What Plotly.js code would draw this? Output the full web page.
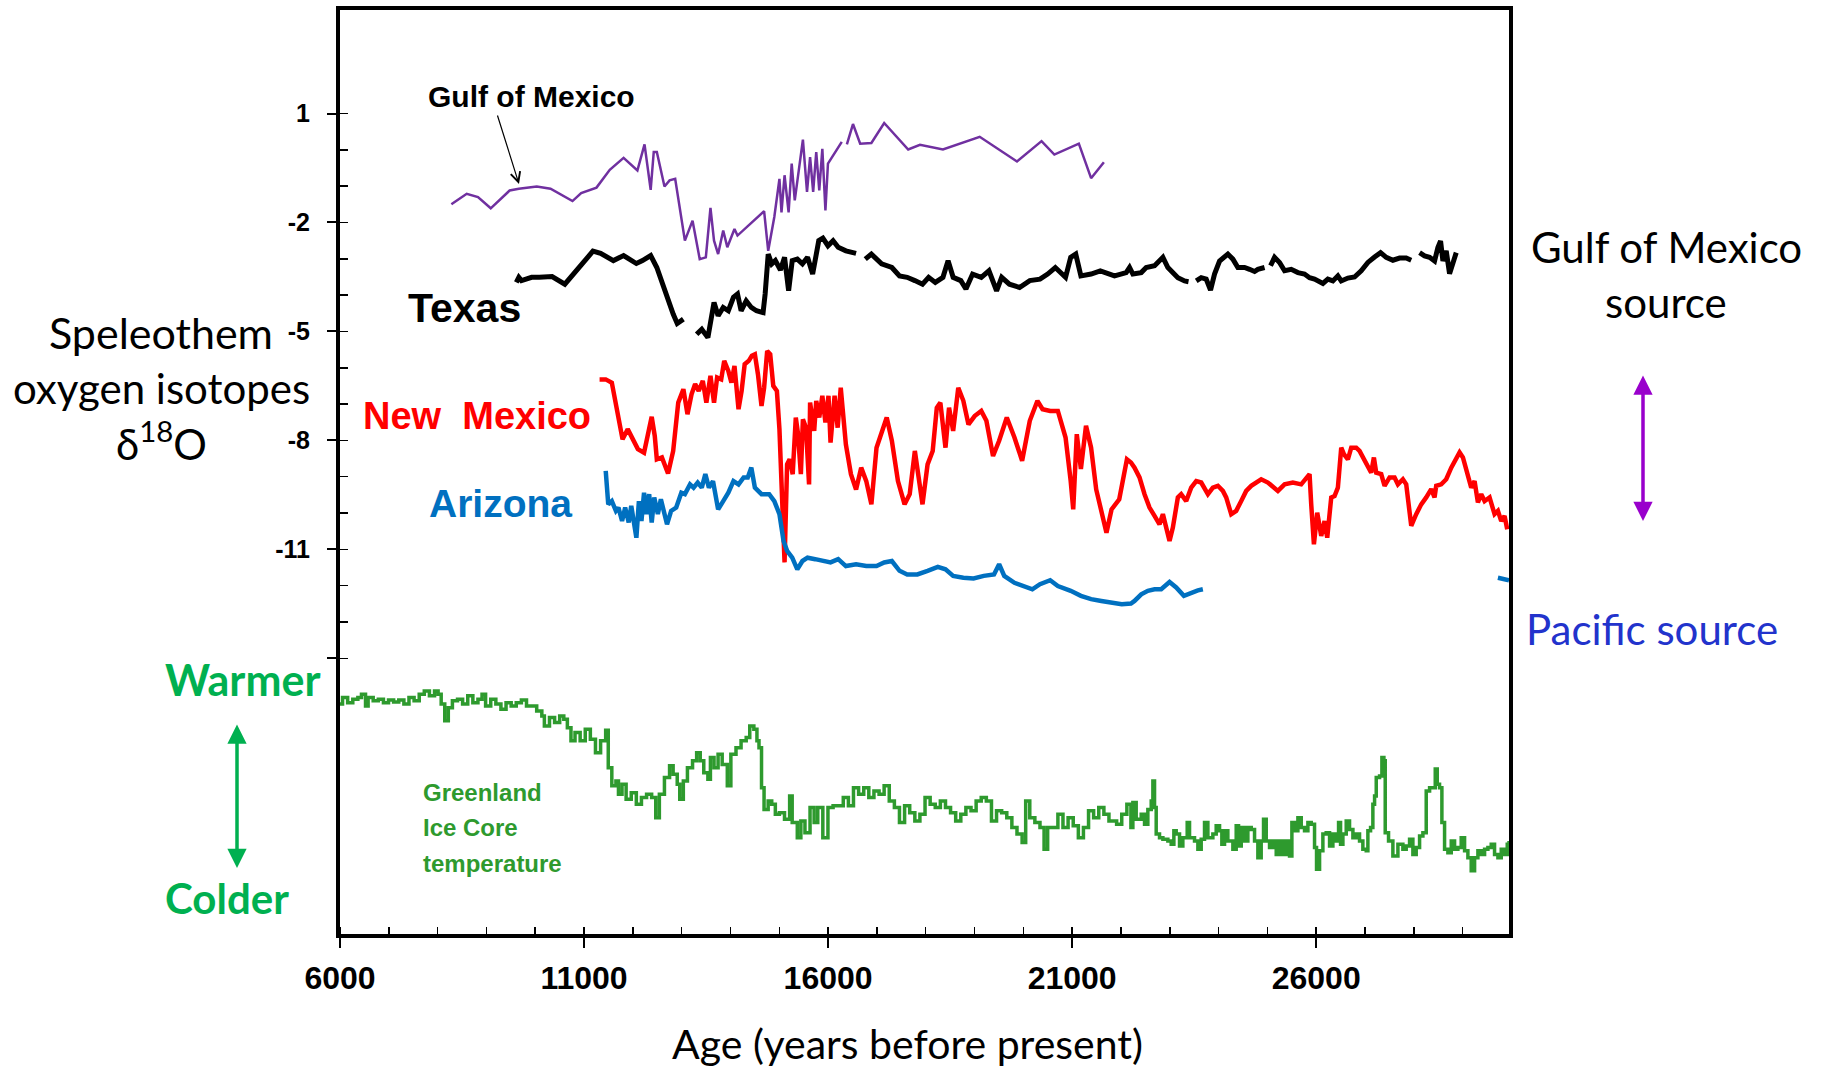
<!DOCTYPE html>
<html>
<head>
<meta charset="utf-8">
<script src="https://cdn.plot.ly/plotly-3.0.1.min.js"></script>
<style>
  html, body { margin: 0; padding: 0; background: #ffffff; }
  #chart { width: 1822px; height: 1073px; }
</style>
</head>
<body>
<div id="chart"></div>
<script>
// ---------- Data ----------
// Gulf of Mexico (purple)
const gulfAge = [8282,8596,8827,9088,9476,9664,10031,10313,10763,10941,11255,11527,11810,12093,12239,12365,12428,12491,12648,12752,12867,13066,13223,13370,13495,13590,13663,13747,13851,13935,14082,14144,14689,14773,14898,15003,15045,15108,15191,15254,15317,15422,15484,15568,15631,15694,15757,15819,15882,15945,15997,16280,16330,16385,16510,16657,16887,17149,17641,17882,18353,19106,19870,20373,20635,21137,21388,21650];
const gulfD18O = [-1.50,-1.21,-1.30,-1.61,-1.12,-1.07,-1.01,-1.07,-1.41,-1.19,-1.04,-0.55,-0.22,-0.57,0.15,-1.10,-0.06,-0.06,-1.01,-0.84,-0.80,-2.50,-1.95,-3.01,-2.96,-1.60,-2.50,-2.87,-2.22,-2.68,-2.18,-2.36,-1.69,-2.78,-1.85,-0.80,-1.72,-0.70,-1.72,-0.38,-1.39,-0.29,0.28,-1.16,-0.20,-1.16,-0.06,-1.12,0.03,-1.67,-0.38,0.22,null,0.15,0.71,0.17,0.19,0.74,0.01,0.14,0.01,0.36,-0.32,0.24,-0.13,0.17,-0.78,-0.34];

// Texas (black)
const texasAge = [9612,9664,9717,9926,10083,10345,10606,10920,11182,11339,11601,11810,11967,12072,12197,12365,12491,12648,12826,12909,13035,13170,
  13307,13412,13537,13590,13663,13747,13851,13956,14061,14144,14218,14322,14427,14532,14668,14710,14773,14846,14919,15024,15108,15191,15265,15369,15474,15579,15683,15809,15893,15997,16102,16207,16364,16573,16670,
  16761,16887,17096,17306,17463,17620,17777,17934,18060,18196,18353,18458,18562,18719,18824,18960,19138,19295,19452,19556,19714,19923,20132,20341,20498,20655,20865,20970,21074,21179,21388,21577,21868,22107,22176,22244,22415,22517,22688,22859,22961,23063,23166,23303,23384,23460,
  23542,23644,23746,23835,23917,24020,24190,24293,24395,24532,24634,24737,24805,24942,25000,
  25065,25147,25249,25352,25488,25625,25761,25864,25966,26137,26239,26342,26444,26513,26649,26786,26922,27059,27196,27319,27435,27571,27708,27844,27947,28030,
  28118,28220,28323,28425,28493,28548,28596,28664,28732,28801,28869];
const texasD18O = [-3.65,-3.51,-3.60,-3.51,-3.51,-3.49,-3.70,-3.19,-2.79,-2.85,-3.05,-2.91,-3.05,-3.13,-3.05,-2.91,-3.24,-3.88,-4.52,-4.78,-4.66,null,
  -5.08,-4.94,-5.17,-4.71,-4.20,-4.57,-4.34,-4.43,-4.06,-3.97,-4.43,-4.16,-4.34,-4.43,-4.48,-3.97,-2.87,-3.14,-3.05,-3.31,-2.96,-3.88,-3.05,-3.01,-3.14,-2.96,-3.42,-2.50,-2.43,-2.64,-2.50,-2.68,-2.78,-2.85,null,
  -3.01,-2.87,-3.14,-3.24,-3.47,-3.51,-3.60,-3.70,-3.51,-3.65,-3.51,-3.05,-3.51,-3.60,-3.83,-3.42,-3.51,-3.33,-3.88,-3.51,-3.70,-3.79,-3.60,-3.56,-3.42,-3.24,-3.51,-2.96,-2.87,-3.47,-3.42,-3.33,-3.47,-3.38,-3.24,-3.42,-3.38,-3.24,-3.19,-2.96,-3.24,-3.38,-3.52,-3.61,-3.63,null,
  -3.61,-3.52,-3.56,-3.86,-3.42,-3.06,-2.87,-3.01,-3.24,-3.24,-3.29,-3.35,-3.29,-3.24,null,
  -3.19,-2.96,-3.10,-3.33,-3.29,-3.38,-3.42,-3.52,-3.56,-3.68,-3.56,-3.61,-3.47,-3.61,-3.53,-3.50,-3.33,-3.10,-2.95,-2.83,-2.96,-3.04,-2.98,-2.98,-3.04,null,
  -2.83,-2.92,-2.96,-3.06,-2.69,-2.51,-3.06,-2.78,-3.41,-3.15,-2.83];

// New Mexico (red)
const nmAge = [11318,11444,11569,11674,11789,11894,11988,12103,12229,12302,12386,12449,12491,12595,12721,12826,12930,13035,13119,13202,
  13276,13349,13433,13506,13590,13663,13726,13810,13872,13956,14019,14082,14165,14228,14291,14375,14438,14500,14563,14636,
  14689,14752,14814,14877,14951,15003,15066,15108,15160,15212,15275,15338,15380,15442,15484,15547,15610,15631,15715,15757,
  15819,15882,15945,16008,16050,16133,16196,16259,16364,16468,16573,16678,16782,16887,16992,17096,17201,17306,17431,17567,
  17672,17777,17934,18038,18143,18227,18300,18405,18478,18562,18667,18771,18876,19002,19138,19243,19379,19504,19661,19818,
  19975,20132,20289,20394,20550,20707,20865,20970,21022,21095,21179,21284,21388,21493,21619,21703,21807,21965,22122,22205,
  22278,22380,22483,22585,22688,22790,22859,22927,22995,23063,23166,23234,23337,23439,23542,23644,23781,23883,23986,24088,
  24156,24259,24361,24464,24566,24669,24873,25010,25215,25352,25522,25693,25864,25898,25953,26021,26103,26171,26226,26308,
  26376,26444,26513,26567,26649,26718,26820,26888,26991,27059,27127,27182,27230,27332,27401,27503,27605,27674,27776,27844,
  27947,28049,28152,28254,28357,28425,28459,28562,28664,28767,28869,28937,29006,29074,29176,29245,29313,29381,29450,29552,
  29654,29723,29791,29859,29914];
const nmD18O = [-6.32,-6.32,-6.41,-7.10,-7.97,-7.69,-7.92,-8.24,-8.34,-7.92,-7.35,-7.88,-8.52,-8.47,-8.91,-8.29,-6.96,-6.59,-7.28,-6.73,
  -6.45,-6.64,-6.36,-6.96,-6.22,-6.96,-6.27,-6.32,-5.81,-6.09,-6.41,-5.95,-7.14,-6.64,-5.90,-5.81,-5.67,-5.63,-6.18,-7.05,
  -6.55,-5.54,-5.63,-6.50,-6.64,-7.69,-9.85,-11.36,-8.66,-8.52,-8.93,-7.37,-7.78,-8.93,-7.42,-7.65,-9.21,-6.96,-7.74,-6.91,
  -7.37,-6.77,-7.51,-6.77,-8.06,-6.77,-7.65,-6.55,-8.11,-8.93,-9.35,-8.75,-9.12,-9.76,-8.20,-7.74,-7.37,-8.01,-9.12,-9.76,
  -9.48,-8.29,-9.76,-8.66,-8.29,-7.10,-6.96,-8.20,-7.10,-7.74,-6.55,-6.91,-7.56,-7.33,-7.19,-7.46,-8.43,-8.01,-7.37,-7.92,
  -8.56,-7.46,-6.91,-7.14,-7.19,-7.19,-7.92,-9.12,-9.90,-7.83,-8.79,-7.60,-8.20,-9.35,-10.13,-10.54,-9.90,-9.62,-8.52,-8.61,
  -8.75,-9.02,-9.48,-9.85,-10.08,-10.31,-10.03,-10.40,-10.77,-10.40,-9.57,-9.48,-9.67,-9.30,-9.12,-9.16,-9.48,-9.30,-9.25,-9.39,
  -9.57,-10.03,-9.94,-9.67,-9.39,-9.25,-9.07,-9.16,-9.39,-9.21,-9.16,-9.21,-8.93,-9.76,-10.86,-9.99,-10.63,-10.22,-10.68,-9.57,
  -9.53,-9.30,-8.20,-8.38,-8.52,-8.20,-8.20,-8.29,-8.56,-8.75,-8.89,-8.47,-8.89,-8.93,-9.25,-9.02,-9.02,-9.21,-9.07,-9.21,
  -10.35,-10.03,-9.76,-9.57,-9.34,-9.57,-9.25,-9.21,-9.07,-8.75,-8.47,-8.33,-8.47,-8.84,-9.30,-9.12,-9.71,-9.48,-9.67,-9.57,
  -10.03,-9.94,-10.22,-10.08,-10.45];

// Arizona (blue)
const azAge = [11444,11496,11569,11653,11705,11779,11842,11915,11967,12030,12072,12124,12176,12229,12281,12334,12386,12438,12512,12574,
  12648,12700,12784,12888,12993,13066,13171,13244,13328,13412,13485,13558,13642,13747,13851,13956,14061,14165,14270,14354,
  14427,14500,14636,14793,14898,15003,15087,15160,15265,15369,15474,15579,15736,15893,16050,16207,16364,16573,16782,16992,
  17149,17306,17463,17620,17829,18038,18248,18405,18562,18771,18980,19190,19399,19504,19609,19818,20027,20185,20341,20550,
  20707,20970,21179,21388,21598,21807,22016,22205,
  22278,22415,22551,22688,22824,22995,23132,23289,23439,23576,23678,
  26000,
  29723,29859,29950];
const azD18O = [-8.84,-9.76,-9.67,-9.94,-9.85,-10.22,-9.85,-10.26,-9.80,-10.40,-10.68,-9.67,-10.22,-9.44,-10.03,-9.48,-10.26,-9.57,-10.03,-9.62,
  -10.03,-10.31,-9.94,-9.85,-9.44,-9.48,-9.21,-9.30,-9.16,-9.30,-8.93,-9.30,-9.12,-9.90,-9.67,-9.44,-9.12,-9.21,-9.02,-9.02,
  -8.75,-9.30,-9.48,-9.48,-9.67,-10.03,-10.77,-11.04,-11.23,-11.55,-11.32,-11.23,-11.27,-11.32,-11.36,-11.27,-11.46,-11.41,-11.46,-11.46,
  -11.36,-11.32,-11.59,-11.69,-11.69,-11.59,-11.48,-11.55,-11.73,-11.78,-11.80,-11.73,-11.69,-11.41,-11.73,-11.92,-12.01,-12.10,-11.96,-11.85,
  -12.01,-12.14,-12.28,-12.37,-12.42,-12.47,-12.51,-12.49,
  -12.42,-12.24,-12.14,-12.10,-12.10,-11.90,-12.05,-12.28,-12.19,-12.13,-12.10,
  null,
  -11.78,-11.82,-11.85];

// Greenland ice core temperature (green, stepped; plotted on the same vertical scale)
const grAge = [6000,6052,6157,6262,6366,6440,6523,6576,6680,6785,6890,6994,7099,7204,7309,7413,7518,7623,7727,7832,
  7937,8010,8073,8146,8219,8303,8408,8512,8617,8722,8826,8910,8983,9088,9193,9297,9402,9507,9611,9716,
  9821,9926,10030,10135,10187,10292,10397,10501,10585,10658,10732,10815,10920,11025,11129,11234,11339,11443,11496,11569,
  11653,11705,11778,11862,11967,12071,12176,12281,12385,12469,12543,12647,12752,12825,12909,12961,13034,13118,13223,13307,
  13380,13453,13537,13589,13663,13746,13830,13935,14008,14113,14217,14322,14395,14479,14542,14584,14636,14688,14772,14845,
  14919,15002,15107,15212,15264,15369,15442,15526,15630,15714,15788,15892,15997,16102,16206,16311,16416,16520,16625,16730,
  16834,16939,17044,17148,17253,17358,17462,17567,17672,17777,17881,17986,18091,18195,18300,18405,18509,18614,18719,18823,
  18928,19033,19137,19242,19347,19451,19556,19661,19765,19870,19975,20048,20132,20236,20341,20425,20498,20603,20708,20812,
  20917,21022,21127,21231,21336,21440,21545,21650,21754,21911,22016,22121,22204,
  22244,22312,22415,22483,22551,22620,22654,22688,22722,22790,22859,22961,23029,23084,23132,23200,23268,23357,23405,23507,
  23576,23644,23712,23781,23883,23951,24020,24067,24122,24190,24293,24361,24409,24464,24532,24600,24669,24737,24805,24873,
  24921,24976,25044,25112,25181,25249,25317,25386,25454,25502,25570,25625,25693,25761,25830,25898,25966,26007,26069,26137,
  26205,26274,26342,26410,26458,26499,26547,26615,26683,26752,26820,26888,26956,27025,27059,27114,27161,27196,27230,27298,
  27346,27387,27414,27482,27571,27674,27776,27844,27913,27981,28049,28118,28186,28254,28323,28391,28439,28480,28527,28575,
  28630,28698,28767,28835,28903,28971,29040,29108,29176,29245,29313,29381,29450,29518,29586,29654,29723,29791,29859,29914,29950];
const grTemp = [-15.26,-15.08,-15.22,-15.13,-15.08,-14.99,-15.31,-15.08,-15.17,-15.13,-15.22,-15.15,-15.20,-15.15,-15.26,-15.08,-15.17,-14.99,-14.90,-15.03,
  -14.90,-14.99,-15.26,-15.72,-15.36,-15.17,-15.13,-15.26,-15.03,-15.22,-15.13,-14.99,-15.31,-15.13,-15.26,-15.40,-15.22,-15.31,-15.22,-15.15,
  -15.31,-15.31,-15.45,-15.59,-15.86,-15.63,-15.77,-15.59,-15.68,-15.91,-16.27,-16.04,-16.27,-15.95,-16.23,-16.60,-16.27,-15.98,-17.01,-17.51,
  -17.38,-17.74,-17.47,-17.88,-17.70,-18.02,-17.83,-17.74,-17.83,-18.39,-17.74,-17.28,-16.96,-17.19,-17.47,-17.88,-17.38,-17.01,-16.82,-16.60,
  -16.82,-17.15,-17.33,-16.73,-17.01,-16.64,-16.92,-17.51,-16.64,-16.46,-16.27,-16.18,-15.86,-15.95,-16.27,-16.46,-17.56,-18.16,-17.93,-18.02,
  -18.29,-18.25,-18.43,-17.79,-18.52,-18.94,-18.48,-18.80,-18.11,-18.52,-18.11,-18.94,-18.11,-18.06,-18.06,-17.83,-18.06,-17.56,-17.74,-17.56,
  -17.83,-17.65,-17.74,-17.51,-17.93,-18.11,-18.52,-18.06,-18.25,-18.48,-18.29,-17.83,-18.02,-18.11,-17.93,-18.11,-18.25,-18.48,-18.29,-18.11,
  -18.20,-17.93,-17.83,-17.93,-18.48,-18.20,-18.25,-18.39,-18.66,-18.84,-19.07,-17.93,-18.39,-18.52,-18.66,-19.26,-18.66,-18.66,-18.29,-18.66,
  -18.39,-18.61,-18.94,-18.66,-18.20,-18.39,-18.11,-18.29,-18.48,-18.57,-18.29,-18.02,-18.66,
  -17.97,-18.43,-18.29,-18.57,-18.16,-17.93,-17.38,-18.11,-18.84,-18.94,-18.98,-19.03,-19.12,-18.75,-18.84,-19.17,-18.94,-18.52,-18.94,-19.03,
  -19.26,-18.98,-18.52,-18.94,-18.84,-18.61,-18.75,-19.12,-18.75,-19.03,-19.26,-18.61,-19.17,-18.66,-19.03,-18.66,-18.71,-19.03,-19.49,-19.03,
  -18.43,-19.03,-19.21,-19.03,-19.40,-19.03,-19.40,-19.03,-19.44,-18.52,-18.75,-18.39,-18.66,-18.75,-18.52,-18.57,-19.21,-19.81,-19.30,-18.84,
  -18.80,-19.17,-18.84,-19.03,-18.52,-19.12,-18.84,-18.48,-18.71,-18.94,-18.84,-19.03,-19.26,-19.30,-18.75,-18.66,-18.02,-17.79,-17.28,-17.24,
  -16.73,-16.82,-18.80,-19.03,-19.44,-19.12,-19.26,-19.17,-18.98,-19.40,-19.21,-18.89,-18.80,-17.65,-17.56,-17.56,-17.05,-17.47,-17.56,-18.52,
  -19.26,-19.35,-19.03,-19.26,-19.21,-18.94,-19.30,-19.49,-19.85,-19.49,-19.30,-19.40,-19.26,-19.21,-19.12,-19.40,-19.49,-19.26,-19.40,-19.12,-19.03];

// Axis ticks
const xMajorTicks = [6000, 11000, 16000, 21000, 26000];
const xMajorLabels = ["6000", "11000", "16000", "21000", "26000"];
const yMajorTicks = [1, -2, -5, -8, -11, -14];
const yMajorLabels = ["1", "-2", "-5", "-8", "-11", " "];
const yMinorTicks = [1, 0, -1, -2, -3, -4, -5, -6, -7, -8, -9, -10, -11, -12, -13, -14];

// ---------- Plot ----------
const calibri = "Lato, 'Open Sans', sans-serif";
const arialB = "'Liberation Sans', Arial, sans-serif";

const traces = [
  {x: gulfAge, y: gulfD18O, mode: "lines", name: "Gulf of Mexico",
   line: {color: "#7030a0", width: 2.5}, connectgaps: false},
  {x: texasAge, y: texasD18O, mode: "lines", name: "Texas",
   line: {color: "#000000", width: 5}, connectgaps: false},
  {x: nmAge, y: nmD18O, mode: "lines", name: "New Mexico",
   line: {color: "#ff0000", width: 4.5}, connectgaps: false},
  {x: azAge, y: azD18O, mode: "lines", name: "Arizona",
   line: {color: "#0070c0", width: 4.5}, connectgaps: false},
  {x: grAge, y: grTemp, mode: "lines", name: "Greenland Ice Core temperature",
   line: {color: "#2e9a2e", width: 3.5, shape: "hv"}}
];

const L = 340, R = 1509, T = 10, B = 934;
const W = R - L, H = B - T;
function px(x) { return (x - L) / W; }
function py(y) { return (B - y) / H; }

function label(text, x, y, font, anchor) {
  return {text: text, x: px(x), y: py(y), xref: "paper", yref: "paper",
          xanchor: anchor || "center", yanchor: "middle", showarrow: false, font: font};
}
function arrow(x, y, ax, ay, color, width, head, size, both) {
  return {text: "", x: px(x), y: py(y), xref: "paper", yref: "paper", showarrow: true,
          ax: ax, ay: ay, arrowhead: head, startarrowhead: head, arrowsize: size, startarrowsize: size,
          arrowwidth: width, arrowcolor: color, arrowside: both ? "end+start" : "end",
          standoff: 0, startstandoff: 0};
}

const annotations = [
  // inner labels
  label("Gulf of Mexico", 531, 96, {family: arialB, size: 30, color: "#000", weight: 700}),
  arrow(519, 184, -22, -70, "#000", 1.2, 5, 1.6, false),
  label("Texas", 464, 308, {family: arialB, size: 41, color: "#000", weight: 700}),
  label("New\u00a0 Mexico", 477, 416, {family: arialB, size: 38, color: "#ff0000", weight: 700}),
  label("Arizona", 500, 503, {family: arialB, size: 39, color: "#0070c0", weight: 700}),
  label("Greenland", 421, 792, {family: arialB, size: 24, color: "#2e9a2e", weight: 700}, "left"),
  label("Ice Core", 421, 827, {family: arialB, size: 24, color: "#2e9a2e", weight: 700}, "left"),
  label("temperature", 421, 863, {family: arialB, size: 24, color: "#2e9a2e", weight: 700}, "left"),
  // left labels
  label("Speleothem", 161, 333, {family: calibri, size: 43, color: "#000"}),
  label("oxygen isotopes", 161, 388, {family: calibri, size: 42, color: "#000"}),
  label("\u03b4<sup>18</sup>O", 161, 441, {family: calibri, size: 42, color: "#000"}),
  label("Warmer", 242, 680, {family: calibri, size: 43, color: "#00b050", weight: 700}),
  label("Colder", 227, 898, {family: calibri, size: 42, color: "#00b050", weight: 700}),
  arrow(237, 868, 0, -145, "#00b050", 3.5, 2, 1.1, true),
  // right labels
  label("Gulf of Mexico", 1666, 247, {family: calibri, size: 42, color: "#000"}),
  label("source", 1666, 302, {family: calibri, size: 42, color: "#000"}),
  arrow(1643, 521, 0, -147, "#9900cc", 3.5, 2, 1.1, true),
  label("Pacific source", 1652, 629, {family: calibri, size: 42, color: "#2233cc"}),
  // x-axis title (placed to match the reference, slightly left of the plot centre)
  label("Age (years before present)", 907, 1043, {family: calibri, size: 41, color: "#000"})
];

const layout = {
  width: 1822, height: 1073,
  margin: {l: L, r: 1822 - R, t: T, b: 1073 - B, pad: 0},
  paper_bgcolor: "#ffffff", plot_bgcolor: "#ffffff",
  showlegend: false,
  xaxis: {
    range: [6000, 29950], tickmode: "array", tickvals: xMajorTicks, ticktext: xMajorLabels,
    ticks: "outside", ticklen: 10, tickwidth: 2, tickcolor: "#000",
    ticklabelstandoff: 3,
    showline: true, linewidth: 4, linecolor: "#000", mirror: true,
    showgrid: false, zeroline: false,
    tickfont: {family: arialB, size: 32, color: "#000", weight: 700},
    minor: {tick0: 6000, dtick: 1000, ticks: "inside", ticklen: 7, tickwidth: 1.5, tickcolor: "#000", showgrid: false}
  },
  yaxis: {
    range: [-21.59, 3.85], tickmode: "array", tickvals: yMajorTicks, ticktext: yMajorLabels,
    ticks: "outside", ticklen: 9, tickwidth: 2, tickcolor: "#000",
    ticklabelstandoff: 12,
    showline: true, linewidth: 4, linecolor: "#000", mirror: true,
    showgrid: false, zeroline: false,
    tickfont: {family: arialB, size: 25, color: "#000", weight: 700},
    minor: {tickmode: "array", tickvals: yMinorTicks, ticks: "inside", ticklen: 8, tickwidth: 1.5, tickcolor: "#000", showgrid: false}
  },
  annotations: annotations
};

Plotly.newPlot("chart", traces, layout, {staticPlot: true, displayModeBar: false});
</script>
</body>
</html>
